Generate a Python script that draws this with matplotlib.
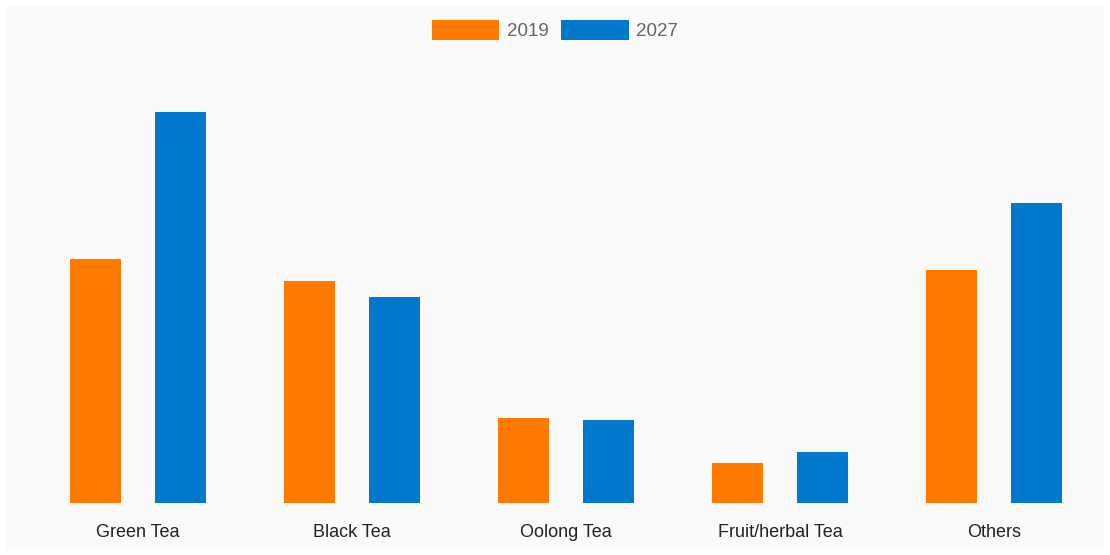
import numpy as np
import matplotlib
matplotlib.use("Agg")
import matplotlib.pyplot as plt
from matplotlib.patches import Rectangle

categories = ["Green Tea", "Black Tea", "Oolong Tea", "Fruit/herbal Tea", "Others"]
share_2019 = [24.4, 22.2, 8.5, 4.0, 23.3]
share_2027 = [39.1, 20.6, 8.3, 5.1, 30.0]

orange = "#ff7b00"
blue = "#0079cc"

plt.rcParams["font.family"] = ["Liberation Sans", "DejaVu Sans"]

fig = plt.figure(figsize=(11.1, 5.55), dpi=100, facecolor="white")
# light panel behind the chart
fig.patches.append(Rectangle((6 / 1110, 6 / 555), 1098 / 1110, 543 / 555,
                             transform=fig.transFigure, facecolor="#fafafa",
                             edgecolor="none", zorder=-10))

ax = fig.add_axes([31 / 1110, (555 - 503) / 555, 1070 / 1110, 450 / 555])
ax.set_facecolor("none")

x = np.arange(len(categories))
w = 0.24
ax.bar(x - 0.2, share_2019, w, color=orange, label="2019")
ax.bar(x + 0.2, share_2027, w, color=blue, label="2027")

ax.set_xlim(-0.5, len(categories) - 0.5)
ax.set_ylim(0, 45)
ax.set_xticks(x, categories, fontsize=13, color="#222222")
ax.tick_params(axis="x", length=0, pad=15)
ax.set_yticks([])
for s in ax.spines.values():
    s.set_visible(False)

fig.legend(loc="upper center", bbox_to_anchor=(0.5, 1 - 3 / 555), ncol=2,
           frameon=False, fontsize=13.5, labelcolor="#666666",
           handlelength=3.6, handleheight=1.3, handletextpad=0.4,
           columnspacing=0.7)

fig.savefig("out.png", dpi=100, facecolor="white")
